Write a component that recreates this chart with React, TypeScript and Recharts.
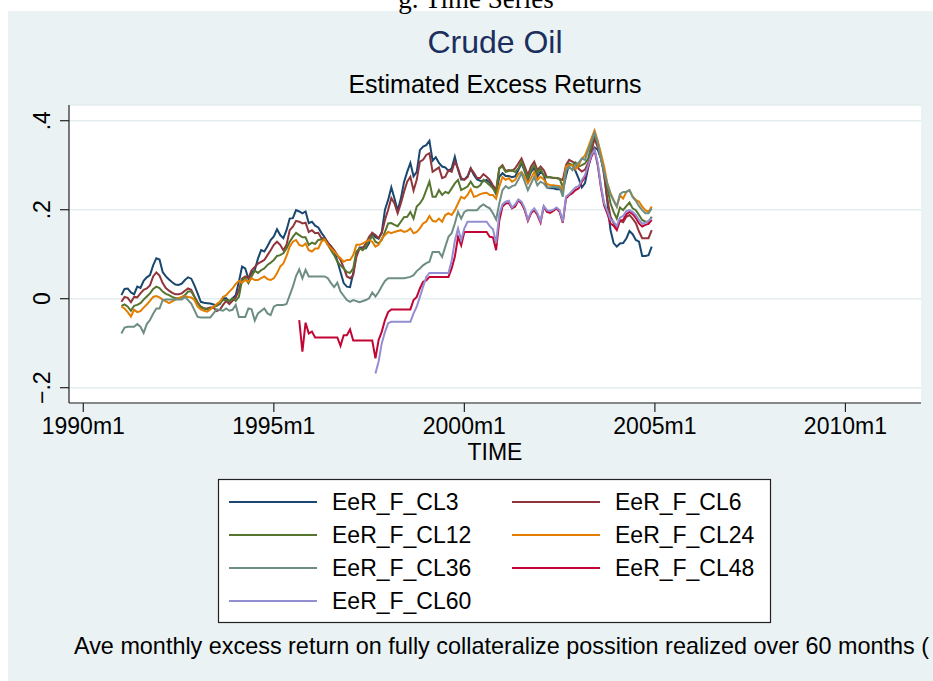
import React from 'react';
import { LineChart, Line, XAxis, YAxis, CartesianGrid } from 'recharts';

type P = [number, number];

// months since 1990m1, value
const CL3: P[] = [
  [12,0.008],[13,0.022],[14,0.023],[15,0.014],[16,0.010],[17,0.027],[18,0.024],[19,0.040],[20,0.048],[21,0.053],
  [22,0.075],[23,0.091],[24,0.088],[25,0.060],[26,0.050],[27,0.043],[28,0.037],[29,0.032],[30,0.031],[31,0.034],
  [32,0.042],[33,0.048],[34,0.045],[35,0.030],[36,0.012],[37,-0.007],[38,-0.009],[39,-0.010],[40,-0.011],[41,-0.013],
  [42,-0.015],[43,-0.012],[44,0.001],[45,0.001],[46,-0.006],[47,0.001],[48,0.008],[49,0.038],[50,0.072],[51,0.068],
  [52,0.045],[53,0.058],[54,0.064],[55,0.090],[56,0.109],[57,0.106],[58,0.118],[59,0.132],[60,0.140],[61,0.156],
  [62,0.143],[63,0.136],[64,0.154],[65,0.180],[66,0.181],[67,0.199],[68,0.196],[69,0.192],[70,0.196],[71,0.170],
  [72,0.173],[73,0.164],[74,0.160],[75,0.148],[76,0.138],[77,0.126],[78,0.118],[79,0.108],[80,0.085],[81,0.060],
  [82,0.035],[83,0.027],[84,0.026],[85,0.057],[86,0.100],[87,0.115],[88,0.115],[89,0.113],[90,0.125],[91,0.147],
  [92,0.138],[93,0.135],[94,0.150],[95,0.200],[96,0.222],[97,0.250],[98,0.225],[99,0.198],[100,0.225],[101,0.262],
  [102,0.285],[103,0.305],[104,0.275],[105,0.285],[106,0.334],[107,0.342],[108,0.345],[109,0.355],[110,0.310],[111,0.318],
  [112,0.305],[113,0.297],[114,0.295],[115,0.287],[116,0.293],[117,0.319],[118,0.290],[119,0.268],[120,0.268],[121,0.275],
  [122,0.293],[123,0.278],[124,0.268],[125,0.265],[126,0.264],[127,0.267],[128,0.261],[129,0.250],[130,0.235],[131,0.274],
  [132,0.282],[133,0.276],[134,0.276],[135,0.273],[136,0.275],[137,0.289],[138,0.305],[139,0.286],[140,0.267],[141,0.285],
  [142,0.293],[143,0.274],[144,0.285],[145,0.278],[146,0.250],[147,0.248],[148,0.248],[149,0.246],[150,0.246],[151,0.243],
  [152,0.275],[153,0.302],[154,0.300],[155,0.287],[156,0.270],[157,0.250],[158,0.260],[159,0.295],[160,0.325],[161,0.340],
  [162,0.335],[163,0.315],[164,0.285],[165,0.220],[166,0.155],[167,0.125],[168,0.117],[169,0.124],[170,0.125],[171,0.135],
  [172,0.152],[173,0.145],[174,0.132],[175,0.128],[176,0.096],[177,0.096],[178,0.098],[179,0.117],
];

const CL6: P[] = [
  [12,-0.007],[13,0.004],[14,0.002],[15,-0.008],[16,0.004],[17,0.003],[18,0.012],[19,0.020],[20,0.023],[21,0.030],
  [22,0.050],[23,0.059],[24,0.052],[25,0.035],[26,0.024],[27,0.018],[28,0.013],[29,0.010],[30,0.010],[31,0.012],
  [32,0.018],[33,0.023],[34,0.020],[35,0.005],[36,-0.008],[37,-0.018],[38,-0.022],[39,-0.022],[40,-0.020],[41,-0.020],
  [42,-0.028],[43,-0.025],[44,-0.014],[45,-0.005],[46,-0.012],[47,-0.005],[48,0.003],[49,0.019],[50,0.045],[51,0.050],
  [52,0.046],[53,0.064],[55,0.079],[56,0.083],[57,0.087],[58,0.098],[59,0.109],[60,0.121],[61,0.128],[62,0.121],
  [63,0.109],[64,0.121],[65,0.154],[66,0.162],[67,0.175],[68,0.173],[69,0.169],[70,0.171],[71,0.150],[72,0.154],
  [73,0.147],[74,0.148],[75,0.136],[76,0.136],[77,0.126],[78,0.117],[79,0.109],[81,0.087],[82,0.070],[83,0.050],
  [84,0.046],[85,0.053],[86,0.094],[87,0.113],[88,0.113],[89,0.124],[90,0.139],[91,0.148],[92,0.143],[93,0.136],
  [94,0.147],[95,0.177],[96,0.200],[97,0.226],[98,0.214],[99,0.192],[100,0.214],[101,0.240],[102,0.263],[103,0.274],
  [104,0.243],[105,0.267],[106,0.308],[107,0.312],[108,0.323],[109,0.327],[110,0.285],[111,0.290],[112,0.295],[113,0.271],
  [114,0.274],[115,0.289],[116,0.285],[117,0.308],[118,0.293],[119,0.271],[120,0.267],[121,0.273],[122,0.293],[123,0.283],
  [124,0.271],[125,0.271],[126,0.280],[127,0.274],[128,0.267],[129,0.255],[130,0.244],[131,0.293],[132,0.300],[133,0.287],
  [134,0.289],[135,0.287],[136,0.293],[137,0.304],[138,0.315],[139,0.297],[140,0.278],[141,0.297],[142,0.308],[143,0.289],
  [144,0.297],[145,0.289],[146,0.273],[147,0.273],[148,0.271],[149,0.271],[150,0.269],[151,0.267],[152,0.300],[153,0.312],
  [154,0.308],[155,0.304],[156,0.292],[157,0.286],[158,0.290],[159,0.305],[160,0.330],[161,0.360],[162,0.340],[163,0.318],
  [164,0.278],[165,0.225],[166,0.185],[167,0.170],[168,0.158],[169,0.175],[170,0.172],[171,0.184],[172,0.188],[173,0.180],
  [174,0.170],[175,0.151],[176,0.136],[177,0.136],[178,0.136],[179,0.154],
];

const CL12: P[] = [
  [12,-0.016],[13,-0.013],[14,-0.018],[15,-0.027],[16,-0.016],[17,-0.014],[18,-0.010],[19,-0.002],[20,0.005],[21,0.012],
  [22,0.022],[23,0.027],[24,0.024],[25,0.016],[26,0.011],[27,0.008],[28,0.004],[29,0.001],[30,0.001],[31,0.003],
  [32,0.008],[33,0.016],[34,0.016],[35,0.004],[36,-0.010],[37,-0.019],[38,-0.022],[39,-0.024],[40,-0.022],[41,-0.019],
  [42,-0.016],[43,-0.010],[44,-0.003],[45,-0.003],[46,-0.005],[47,0.001],[48,-0.005],[49,0.004],[50,0.042],[51,0.046],
  [52,0.035],[53,0.050],[54,0.063],[55,0.058],[56,0.064],[57,0.068],[58,0.076],[59,0.081],[60,0.087],[61,0.096],
  [62,0.098],[63,0.102],[64,0.113],[65,0.128],[66,0.139],[67,0.148],[68,0.143],[69,0.138],[70,0.138],[71,0.121],
  [72,0.126],[73,0.123],[74,0.132],[75,0.133],[76,0.133],[77,0.121],[78,0.109],[79,0.098],[80,0.083],[81,0.075],
  [82,0.068],[83,0.060],[84,0.058],[85,0.068],[86,0.106],[87,0.113],[88,0.109],[89,0.117],[90,0.132],[91,0.141],
  [92,0.128],[93,0.124],[94,0.132],[95,0.150],[96,0.169],[97,0.170],[98,0.166],[99,0.163],[100,0.173],[101,0.183],
  [102,0.184],[103,0.195],[104,0.180],[105,0.207],[106,0.214],[107,0.225],[108,0.244],[109,0.263],[110,0.229],[111,0.229],
  [112,0.244],[113,0.233],[114,0.240],[115,0.237],[116,0.248],[117,0.259],[118,0.267],[119,0.244],[120,0.248],[121,0.252],
  [122,0.263],[123,0.252],[124,0.250],[125,0.255],[126,0.267],[127,0.261],[128,0.255],[129,0.248],[130,0.238],[131,0.293],
  [132,0.297],[133,0.285],[134,0.287],[135,0.289],[136,0.285],[137,0.293],[138,0.308],[139,0.289],[140,0.271],[141,0.289],
  [142,0.300],[143,0.282],[144,0.293],[145,0.276],[146,0.273],[147,0.273],[148,0.272],[149,0.271],[150,0.270],[151,0.250],
  [152,0.285],[153,0.304],[154,0.300],[155,0.306],[156,0.297],[157,0.300],[158,0.304],[159,0.315],[160,0.345],[161,0.372],
  [162,0.352],[163,0.319],[164,0.289],[165,0.250],[166,0.215],[167,0.195],[168,0.180],[169,0.205],[170,0.199],[171,0.208],
  [172,0.216],[173,0.203],[174,0.199],[175,0.188],[176,0.177],[177,0.173],[178,0.173],[179,0.184],
];

const CL24: P[] = [
  [12,-0.018],[13,-0.022],[14,-0.030],[15,-0.040],[16,-0.025],[17,-0.030],[18,-0.028],[19,-0.020],[20,-0.013],[21,-0.005],
  [22,0.004],[23,0.006],[24,0.003],[25,-0.002],[26,-0.006],[27,-0.010],[28,-0.006],[29,-0.002],[30,0.001],[31,0.004],
  [32,0.006],[33,0.004],[34,0.003],[35,-0.003],[36,-0.018],[37,-0.024],[38,-0.027],[39,-0.029],[40,-0.024],[41,-0.018],
  [42,-0.012],[43,-0.007],[44,0.004],[45,0.008],[46,0.016],[47,0.023],[48,0.033],[49,0.040],[50,0.036],[51,0.042],
  [52,0.038],[53,0.046],[54,0.042],[55,0.042],[56,0.046],[57,0.050],[58,0.044],[59,0.042],[60,0.046],[61,0.057],
  [62,0.072],[63,0.079],[64,0.096],[65,0.117],[66,0.128],[67,0.132],[68,0.121],[69,0.118],[70,0.124],[71,0.109],
  [72,0.106],[73,0.113],[74,0.113],[75,0.128],[76,0.133],[77,0.121],[78,0.113],[79,0.106],[80,0.098],[81,0.091],
  [82,0.083],[83,0.087],[84,0.087],[85,0.098],[86,0.121],[87,0.121],[88,0.124],[89,0.128],[90,0.132],[91,0.128],
  [92,0.117],[93,0.121],[94,0.135],[95,0.143],[96,0.150],[97,0.147],[98,0.150],[99,0.152],[100,0.154],[101,0.150],
  [102,0.152],[103,0.158],[104,0.147],[105,0.150],[106,0.158],[107,0.169],[108,0.173],[109,0.186],[110,0.175],[111,0.173],
  [112,0.180],[113,0.173],[114,0.188],[115,0.192],[116,0.188],[117,0.199],[118,0.214],[119,0.229],[120,0.225],[121,0.233],
  [122,0.246],[123,0.229],[124,0.231],[125,0.235],[126,0.237],[127,0.238],[128,0.233],[129,0.233],[130,0.225],[131,0.252],
  [132,0.273],[133,0.267],[134,0.271],[135,0.263],[136,0.267],[137,0.280],[138,0.285],[139,0.274],[140,0.259],[141,0.271],
  [142,0.285],[143,0.267],[144,0.274],[145,0.268],[146,0.258],[147,0.255],[148,0.255],[149,0.254],[150,0.253],[151,0.244],
  [152,0.297],[153,0.300],[154,0.300],[155,0.291],[156,0.300],[157,0.315],[158,0.322],[159,0.340],[160,0.360],[161,0.378],
  [162,0.355],[163,0.327],[164,0.297],[165,0.260],[166,0.238],[167,0.222],[168,0.207],[169,0.232],[170,0.225],[171,0.240],
  [172,0.244],[173,0.230],[174,0.222],[175,0.218],[176,0.207],[177,0.199],[178,0.195],[179,0.207],
];

const CL36: P[] = [
  [12,-0.078],[13,-0.065],[14,-0.063],[15,-0.063],[16,-0.063],[17,-0.057],[18,-0.063],[19,-0.077],[20,-0.057],[21,-0.048],
  [22,-0.034],[23,-0.022],[24,-0.022],[25,-0.003],[26,-0.002],[28,-0.002],[29,-0.002],[31,-0.002],[32,0.004],[34,-0.011],
  [36,-0.041],[37,-0.042],[40,-0.042],[41,-0.033],[42,-0.024],[44,-0.027],[45,-0.022],[46,-0.027],[47,-0.025],[48,-0.014],
  [49,-0.041],[51,-0.041],[52,-0.022],[53,-0.024],[54,-0.049],[55,-0.033],[57,-0.022],[58,-0.033],[59,-0.037],[60,-0.018],
  [61,-0.014],[63,-0.014],[64,-0.012],[66,0.027],[67,0.051],[68,0.066],[69,0.046],[70,0.065],[71,0.050],[73,0.050],
  [76,0.050],[77,0.046],[78,0.035],[79,0.026],[80,0.036],[81,0.016],[83,-0.003],[84,-0.007],[85,-0.003],[87,-0.008],
  [89,-0.003],[90,0.001],[91,0.014],[92,0.005],[93,0.015],[94,0.028],[95,0.040],[96,0.046],[98,0.046],[100,0.046],
  [101,0.046],[103,0.049],[104,0.053],[105,0.062],[106,0.068],[107,0.075],[108,0.080],[109,0.083],[110,0.105],[112,0.105],
  [113,0.094],[114,0.117],[115,0.139],[116,0.147],[117,0.169],[118,0.195],[119,0.180],[120,0.195],[121,0.199],[124,0.199],
  [125,0.207],[126,0.212],[127,0.207],[128,0.203],[129,0.192],[130,0.178],[131,0.214],[132,0.244],[133,0.253],[134,0.248],
  [135,0.253],[136,0.255],[137,0.268],[138,0.282],[139,0.263],[140,0.244],[141,0.259],[142,0.274],[143,0.255],[144,0.263],
  [145,0.259],[146,0.250],[147,0.250],[148,0.252],[149,0.251],[150,0.250],[151,0.229],[152,0.289],[153,0.297],[154,0.289],
  [155,0.300],[156,0.306],[157,0.315],[158,0.312],[159,0.334],[160,0.353],[161,0.373],[162,0.350],[163,0.315],[164,0.285],
  [165,0.258],[166,0.235],[167,0.220],[168,0.207],[169,0.235],[170,0.240],[171,0.240],[172,0.244],[173,0.228],[174,0.220],
  [175,0.208],[176,0.199],[177,0.192],[178,0.192],[179,0.203],
];

const CL48: P[] = [
  [68,-0.048],[69,-0.119],[70,-0.054],[71,-0.078],[72,-0.074],[73,-0.087],[79,-0.087],[80,-0.087],[81,-0.106],[82,-0.082],
  [83,-0.082],[84,-0.069],[85,-0.094],[91,-0.094],[92,-0.134],[93,-0.093],[94,-0.074],[95,-0.048],[96,-0.030],[97,-0.024],
  [103,-0.024],[104,-0.003],[105,0.004],[106,0.023],[107,0.038],[108,0.041],[109,0.049],[115,0.049],[116,0.068],[117,0.094],
  [118,0.139],[119,0.120],[120,0.150],[121,0.150],[127,0.150],[128,0.139],[129,0.138],[130,0.109],[131,0.175],[132,0.207],
  [133,0.214],[134,0.215],[135,0.203],[136,0.207],[137,0.221],[138,0.214],[139,0.199],[140,0.175],[141,0.192],[142,0.199],
  [143,0.188],[144,0.171],[145,0.207],[146,0.195],[147,0.193],[148,0.197],[149,0.203],[150,0.195],[151,0.171],[152,0.225],
  [153,0.233],[154,0.237],[155,0.244],[156,0.248],[157,0.263],[158,0.274],[159,0.297],[160,0.319],[161,0.334],[162,0.300],
  [163,0.250],[164,0.210],[165,0.192],[166,0.169],[167,0.164],[168,0.154],[169,0.176],[170,0.177],[171,0.190],[172,0.195],
  [173,0.190],[174,0.182],[175,0.169],[176,0.162],[177,0.166],[178,0.168],[179,0.177],
];

const CL60: P[] = [
  [92,-0.168],[93,-0.141],[94,-0.100],[95,-0.075],[96,-0.055],[97,-0.052],[103,-0.052],[104,-0.033],[105,-0.018],[106,0.004],
  [107,0.027],[108,0.049],[109,0.058],[115,0.058],[116,0.085],[117,0.130],[118,0.158],[119,0.132],[120,0.158],[121,0.173],
  [127,0.173],[128,0.163],[129,0.156],[130,0.125],[131,0.190],[132,0.212],[133,0.218],[134,0.220],[135,0.205],[136,0.212],
  [137,0.223],[138,0.218],[139,0.203],[140,0.178],[141,0.195],[142,0.203],[143,0.192],[144,0.175],[145,0.208],[146,0.199],
  [147,0.197],[148,0.200],[149,0.205],[150,0.199],[151,0.173],[152,0.229],[153,0.235],[154,0.243],[155,0.250],[156,0.253],
  [157,0.267],[158,0.278],[159,0.300],[160,0.323],[161,0.335],[162,0.305],[163,0.255],[164,0.215],[165,0.198],[166,0.178],
  [167,0.173],[168,0.163],[169,0.182],[170,0.186],[171,0.197],[172,0.199],[173,0.195],[174,0.188],[175,0.177],[176,0.168],
  [177,0.171],[178,0.175],[179,0.181],
];

const SERIES_NAMES = ['EeR_F_CL3', 'EeR_F_CL6', 'EeR_F_CL12', 'EeR_F_CL24', 'EeR_F_CL36', 'EeR_F_CL48', 'EeR_F_CL60'];
const SERIES_DATA = [CL3, CL6, CL12, CL24, CL36, CL48, CL60];
const SERIES_COLORS = ['#1A476F', '#90353B', '#55752F', '#E37E00', '#6E8E84', '#C10534', '#938DD2'];

const X_TICKS = [0, 60, 120, 180, 240];
const X_TICK_LABELS = ['1990m1', '1995m1', '2000m1', '2005m1', '2010m1'];
const Y_TICKS = [-0.2, 0, 0.2, 0.4];
const Y_TICK_LABELS = ['\u2212.2', '0', '.2', '.4'];

const TOP_TITLE = 'g. Time Series';
const TITLE = 'Crude Oil';
const SUBTITLE = 'Estimated Excess Returns';
const X_TITLE = 'TIME';
const NOTE = 'Ave monthly excess return on fully collateralize possition realized over 60 months (';

const W = 933;
const H = 681;
const FONT = 'Liberation Sans, Arial, Helvetica, sans-serif';
const BG = '#EAF2F3';

const XTick = (props: any) => {
  const { x, y, payload } = props;
  const i = X_TICKS.indexOf(payload.value);
  return (
    <text x={x} y={y} dy="0.71em" textAnchor="middle" fontSize={23} fontFamily={FONT} fill="#000">
      {i >= 0 ? X_TICK_LABELS[i] : ''}
    </text>
  );
};

const YTick = (props: any) => {
  const { x, y, payload } = props;
  const i = Y_TICKS.findIndex((v) => Math.abs(v - payload.value) < 1e-9);
  const cx = x - 18;
  return (
    <text x={cx} y={y} dy="0.36em" textAnchor="middle" fontSize={23} fontFamily={FONT} fill="#000"
      transform={`rotate(-90 ${cx} ${y})`}>
      {i >= 0 ? Y_TICK_LABELS[i] : ''}
    </text>
  );
};

const legendRows = [0, 1, 2, 3];

export default function App() {
  return (
    <div style={{ position: 'absolute', left: 0, top: 0, width: W, height: H, background: '#fff', overflow: 'hidden' }}>
      <svg width={W} height={H} style={{ position: 'absolute', left: 0, top: 0 }}>
        <rect x={8} y={11} width={W - 8} height={H - 11} fill={BG} />
        <text x={476} y={8} textAnchor="middle" fontSize={27} fontFamily="Liberation Serif, Times New Roman, serif" fill="#000">{TOP_TITLE}</text>
        <text x={495} y={53} textAnchor="middle" fontSize={32} fontFamily={FONT} fill="#1C2E5E">{TITLE}</text>
        <text x={495} y={93} textAnchor="middle" fontSize={25} fontFamily={FONT} fill="#000">{SUBTITLE}</text>
        <text x={495} y={460} textAnchor="middle" fontSize={23} fontFamily={FONT} fill="#000">{X_TITLE}</text>
        <rect x={218.5} y={479.5} width={552} height={143} fill="#fff" stroke="#222" strokeWidth={1.2} />
        {SERIES_NAMES.map((name, i) => {
          const col = i % 2;
          const row = Math.floor(i / 2);
          const cy = 502 + legendRows[row] * 33;
          const lx = col === 0 ? 229 : 512;
          return (
            <g key={name}>
              <line x1={lx} x2={lx + 88} y1={cy} y2={cy} stroke={SERIES_COLORS[i]} strokeWidth={2} />
              <text x={lx + 103} y={cy + 8} fontSize={23} fontFamily={FONT} fill="#000">{name}</text>
            </g>
          );
        })}
        <text x={74} y={654} fontSize={23.4} fontFamily={FONT} fill="#000">{NOTE}</text>
      </svg>
      <div style={{ position: 'absolute', left: 0, top: 0 }}>
        <LineChart width={W} height={H} margin={{ top: 105, right: 12, left: 8, bottom: 248 }}>
          <CartesianGrid horizontal vertical={false} fill="#fff" stroke="#E3ECEE" strokeWidth={1.5} />
          <XAxis
            type="number"
            dataKey="t"
            domain={[-4.5, 263.8]}
            ticks={X_TICKS}
            interval={0}
            allowDataOverflow
            height={30}
            tickSize={9}
            tickMargin={6}
            tick={<XTick />}
            axisLine={{ stroke: '#222', strokeWidth: 1.2 }}
            tickLine={{ stroke: '#222', strokeWidth: 1.2 }}
          />
          <YAxis
            type="number"
            domain={[-0.2344, 0.4353]}
            ticks={Y_TICKS}
            interval={0}
            allowDataOverflow
            width={61}
            tickSize={9}
            tickMargin={0}
            tick={<YTick />}
            axisLine={{ stroke: '#222', strokeWidth: 1.2 }}
            tickLine={{ stroke: '#222', strokeWidth: 1.2 }}
          />
          {SERIES_NAMES.map((name, i) => (
            <Line
              key={name}
              name={name}
              data={SERIES_DATA[i].map(([t, v]) => ({ t, v }))}
              dataKey="v"
              stroke={SERIES_COLORS[i]}
              strokeWidth={2}
              dot={false}
              activeDot={false}
              isAnimationActive={false}
              type="linear"
            />
          ))}
        </LineChart>
      </div>
    </div>
  );
}
